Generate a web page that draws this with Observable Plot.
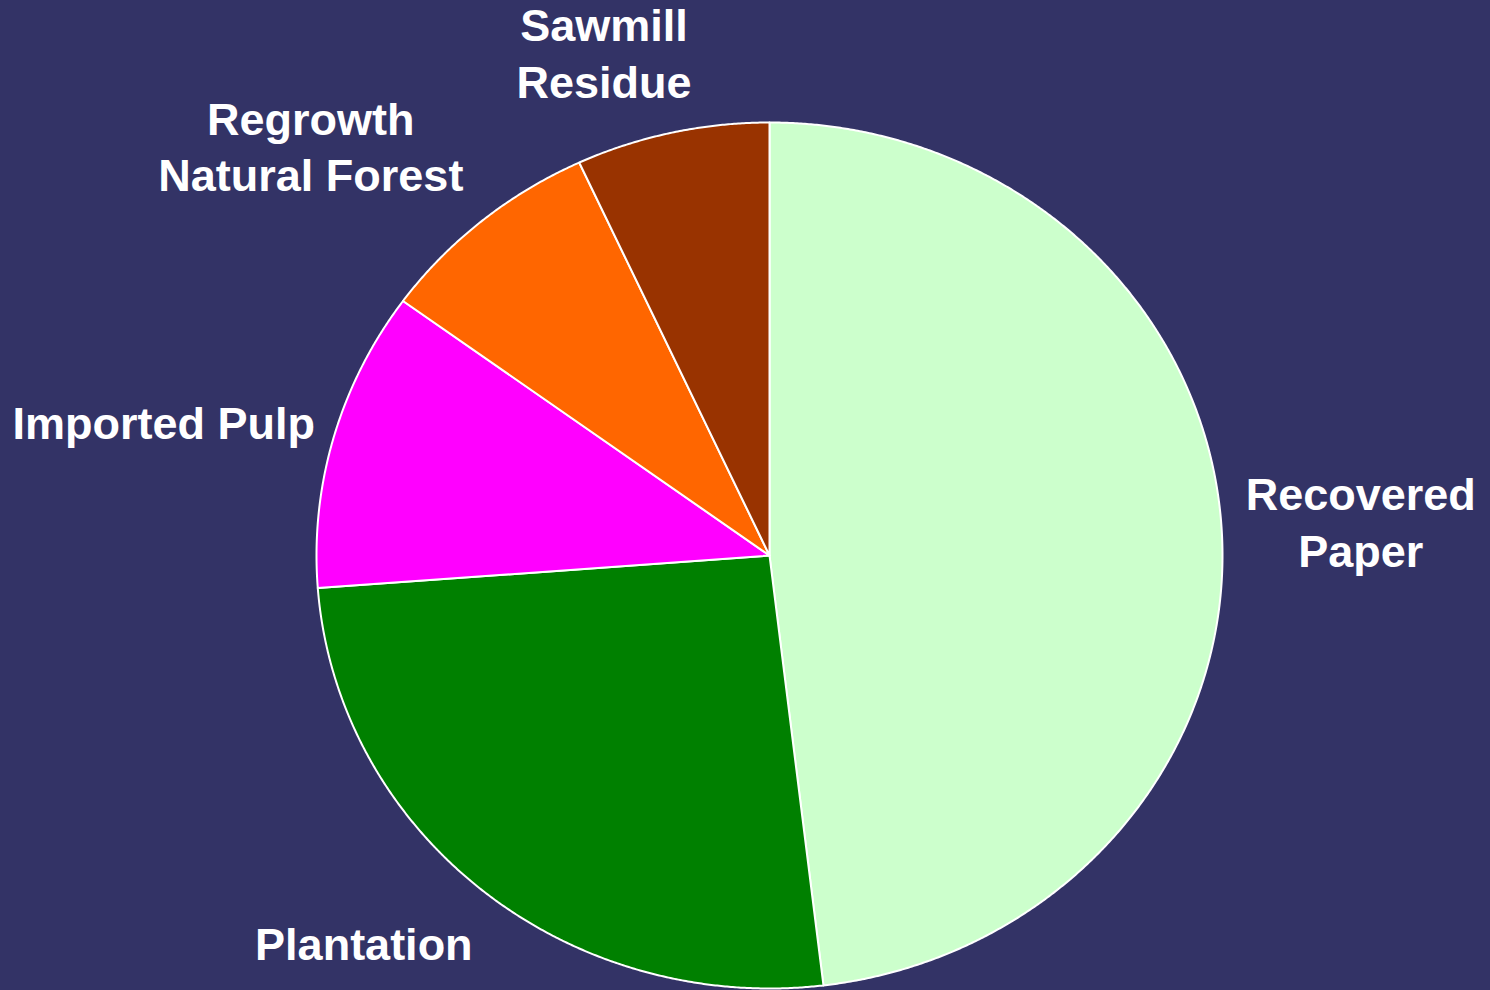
<!DOCTYPE html>
<html>
<head>
<meta charset="utf-8">
<script src="https://cdn.jsdelivr.net/npm/d3@7"></script>
<script src="https://cdn.jsdelivr.net/npm/@observablehq/plot@0.6"></script>
<style>
  html, body { margin: 0; padding: 0; background: #333366; }
  #chart { width: 1490px; height: 990px; }
</style>
</head>
<body>
<div id="chart"></div>
<script>
// ---- data ----
const categories = ["Recovered Paper", "Plantation", "Imported Pulp", "Regrowth Natural Forest", "Sawmill Residue"];
const shares = [48.1, 25.7, 11.2, 8.1, 6.9];
const labelTexts = ["Recovered\nPaper", "Plantation", "Imported Pulp", "Regrowth\nNatural Forest", "Sawmill\nResidue"];

// ---- styling / layout (not data) ----
const palette = ["#CCFFCC", "#008000", "#FF00FF", "#FF6600", "#993300"];
const labelNudge = [[139, 37], [-118, 70], [-170, 2], [-171, -30], [-68, -35]]; // px offsets from slice edge midpoint

const arcs = d3.pie().sort(null).startAngle(0).endAngle(2 * Math.PI)(shares);

function slicePolygon(a, name) {
  const pts = [{name, x: 0, y: 0}];
  const steps = Math.max(2, Math.ceil((a.endAngle - a.startAngle) / (Math.PI / 720)));
  for (let i = 0; i <= steps; i++) {
    const t = a.startAngle + (a.endAngle - a.startAngle) * i / steps;
    pts.push({name, x: Math.sin(t), y: Math.cos(t)});
  }
  pts.push({name, x: 0, y: 0});
  return pts;
}

const sliceMarks = arcs.map((a, i) =>
  Plot.line(slicePolygon(a, categories[i]), {
    x: "x", y: "y",
    fill: palette[i],
    stroke: "white",
    strokeWidth: 2,
    strokeLinejoin: "round"
  })
);

const labelMarks = arcs.map((a, i) => {
  const mid = (a.startAngle + a.endAngle) / 2;
  return Plot.text([{label: labelTexts[i], x: Math.sin(mid), y: Math.cos(mid)}], {
    x: "x", y: "y", text: "label",
    dx: labelNudge[i][0], dy: labelNudge[i][1],
    fill: "white",
    fontSize: 45,
    fontWeight: "bold",
    fontFamily: "'Liberation Sans', Arial, sans-serif",
    textAnchor: "middle",
    lineAnchor: "bottom",
    lineHeight: 1.25
  });
});

const chart = Plot.plot({
  width: 1490,
  height: 990,
  margin: 0,
  style: {background: "#333366", overflow: "visible"},
  x: {domain: [-1, 1], range: [316, 1222], axis: null},
  y: {domain: [-1, 1], range: [988, 122], axis: null},
  marks: [...sliceMarks, ...labelMarks]
});

document.getElementById("chart").appendChild(chart);
</script>
</body>
</html>
